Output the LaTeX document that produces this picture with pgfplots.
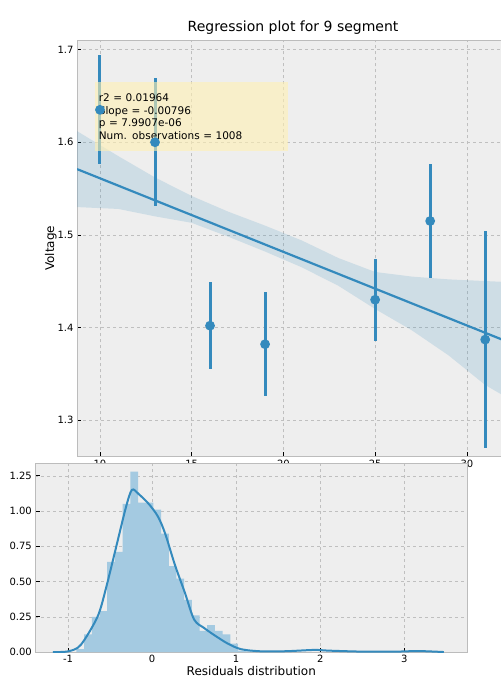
\documentclass[border=0pt]{standalone}
\usepackage{pgfplots}
\pgfplotsset{compat=1.18}
\usepackage{fontspec}
\setmainfont{DejaVu Sans}
\definecolor{cb}{HTML}{348ABD}
\definecolor{bg}{HTML}{EEEEEE}
\definecolor{fr}{HTML}{BCBCBC}
\begin{document}
\begin{tikzpicture}[x=1pt,y=1pt]
\pgfplotsset{my/.style={scale only axis, axis background/.style={fill=bg},
 axis line style={fr}, grid=major, grid style={dashed,gray!50,line width=0.4pt},
 tick style={black,line width=0.6pt}, tick align=inside, tick label style={font=\fontsize{10}{12}\selectfont},
 /pgf/number format/assume math mode=true, xtick pos=bottom, ytick pos=left, axis on top=false}}
\begin{axis}[my, at={(42,263)}, anchor=south west, width=432, height=416,
 xmin=8.75, xmax=32.3, ymin=1.261, ymax=1.71,
 xtick={10,15,20,25,30}, ytick={1.3,1.4,1.5,1.6,1.7},
 yticklabel style={/pgf/number format/fixed,/pgf/number format/precision=1,/pgf/number format/fixed zerofill},
 title={\fontsize{14}{16}\selectfont Regression plot for 9 segment}, title style={yshift=-4pt},
 xlabel={\fontsize{12}{14}\selectfont WT}, ylabel={\fontsize{12}{14}\selectfont Voltage},
 xlabel style={yshift=4pt}, ylabel style={yshift=-6pt}]
\addplot[draw=none, fill=cb, fill opacity=0.17] coordinates {
(8.75,1.612)(11,1.585)(13,1.562)(15,1.542)(17,1.525)(19,1.51)(21,1.494)(23,1.475)(25,1.46)(27,1.455)(29,1.452)(32.3,1.449)
(32.3,1.323)(31,1.338)(29,1.37)(27,1.397)(25,1.42)(23,1.445)(21,1.465)(19,1.482)(17,1.498)(15,1.513)(13,1.52)(11,1.528)(8.75,1.53)} --cycle;
\addplot[cb, line width=2.2pt] coordinates {(8.75,1.571)(32.3,1.384)};
\addplot[only marks, mark=*, mark size=3.3pt, cb, line width=3pt,
 error bars/.cd, y dir=both, y explicit, error mark=none, error bar style={line width=3pt,cb}]
 coordinates {
 (10,1.635) +- (0,0.059)
 (13,1.600) +- (0,0.069)
 (16,1.402) +- (0,0.047)
 (19,1.382) +- (0,0.056)
 (25,1.430) +- (0,0.044)
 (28,1.515) +- (0,0.062)
 (31,1.387) +- (0,0.117)};
\node[anchor=north west, fill=orange!40!yellow!30, fill opacity=0.6, text opacity=1, inner sep=3pt, align=left,
 font=\fontsize{10.5}{12.5}\selectfont, minimum width=193pt, minimum height=69pt, text width=186pt]
 at (rel axis cs:0.042,0.9) {r2 = 0.01964\\Slope = -0.00796\\p = 7.9907e-06\\Num. observations = 1008};
\end{axis}
\begin{axis}[my, at={(42,34)}, anchor=south west, width=432, height=189,
 xmin=-1.39, xmax=3.75, ymin=0, ymax=1.34,
 xtick={-1,0,1,2,3}, ytick={0,0.25,0.5,0.75,1,1.25},
 yticklabel style={/pgf/number format/fixed,/pgf/number format/precision=2,/pgf/number format/fixed zerofill},
 xlabel={\fontsize{12}{14}\selectfont Residuals distribution}, xlabel style={yshift=4pt}]
\addplot[ybar interval, fill=cb!45, draw=none] coordinates {
(-0.90,0.02)(-0.8085,0.125)(-0.717,0.25)(-0.6255,0.29)(-0.534,0.64)(-0.4425,0.71)(-0.351,1.05)(-0.2595,1.28)
(-0.168,1.06)(-0.0765,1.06)(0.015,1.01)(0.1065,0.84)(0.198,0.61)(0.2895,0.52)(0.381,0.37)(0.4725,0.26)
(0.564,0.15)(0.6555,0.19)(0.747,0.15)(0.8385,0.125)(0.93,0.06)(1.0215,0.01)(1.113,0.005)(1.2045,0.005)};
\addplot[cb, line width=2pt, smooth] coordinates {
(-1.18,0)(-1.0,0.005)(-0.85,0.05)(-0.65,0.25)(-0.55,0.45)(-0.43,0.74)(-0.31,1.03)(-0.24,1.15)(-0.16,1.12)
(-0.04,1.05)(0.07,0.96)(0.155,0.84)(0.27,0.62)(0.39,0.42)(0.5,0.23)(0.62,0.17)(0.74,0.12)(0.9,0.06)(1.06,0.02)
(1.3,0.005)(1.6,0.006)(1.93,0.015)(2.1,0.01)(2.5,0.003)(2.9,0.003)(3.17,0.007)(3.47,0)};
\end{axis}
\pgfresetboundingbox
\useasboundingbox (0,0) rectangle (500,700);
\end{tikzpicture}
\end{document}
